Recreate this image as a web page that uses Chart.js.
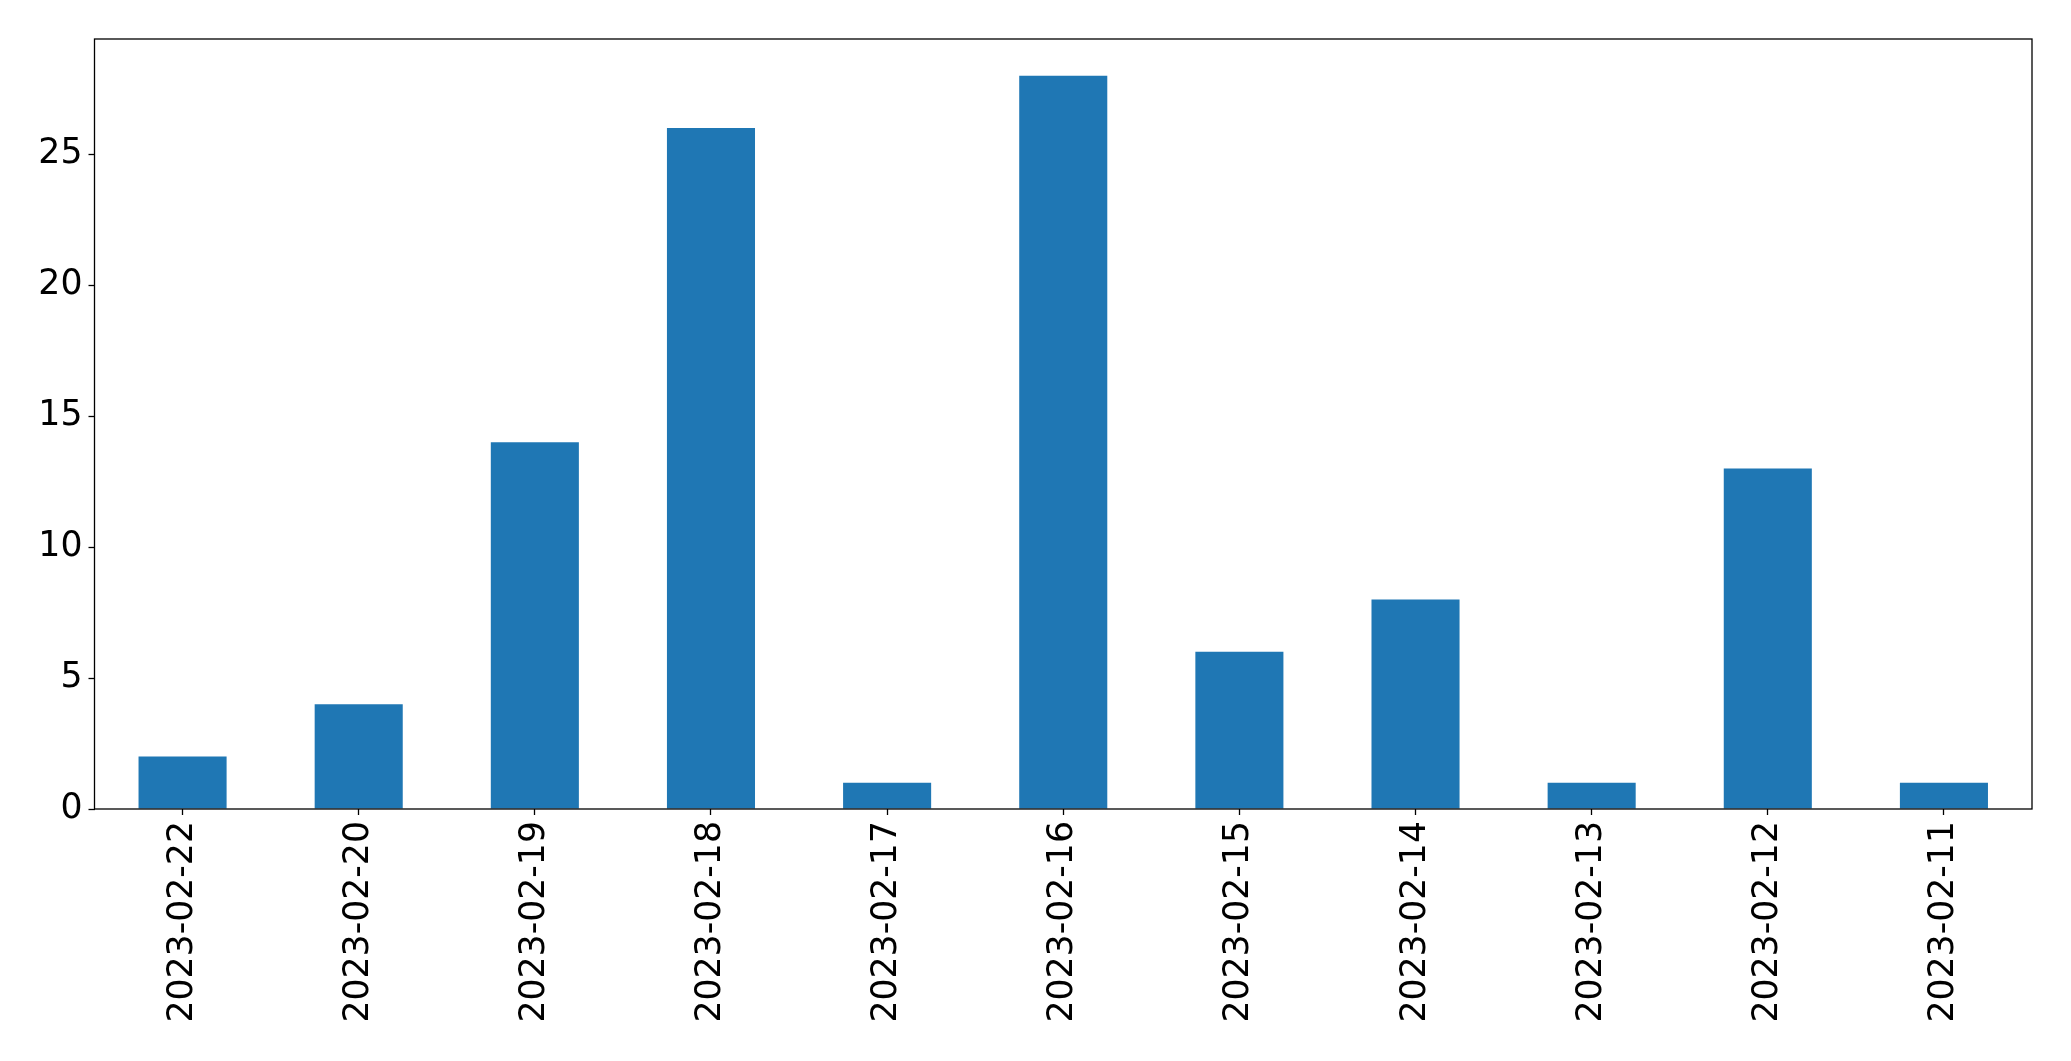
<!DOCTYPE html>
<html>
<head>
<meta charset="utf-8">
<script src="https://cdn.jsdelivr.net/npm/chart.js@4"></script>
<style>
  html, body { margin: 0; padding: 0; background: #fff; }
  #wrap { width: 2071px; height: 1061px; }
</style>
</head>
<body>
<div id="wrap"><canvas id="dateChart" width="2071" height="1061"></canvas></div>
<script>
// counts per date
const dates = ["2023-02-22", "2023-02-20", "2023-02-19", "2023-02-18", "2023-02-17", "2023-02-16",
               "2023-02-15", "2023-02-14", "2023-02-13", "2023-02-12", "2023-02-11"];
const counts = [2, 4, 14, 26, 1, 28, 6, 8, 1, 13, 1];
const yTicks = [0, 5, 10, 15, 20, 25];

// box around the plot, like matplotlib spines
const frame = {
  id: "frame",
  afterDraw(chart) {
    const a = chart.chartArea;
    const ctx = chart.ctx;
    ctx.save();
    ctx.strokeStyle = "#000";
    ctx.lineWidth = 1.3;
    ctx.strokeRect(a.left, a.top, a.right - a.left, a.bottom - a.top);
    ctx.restore();
  }
};

Chart.defaults.font.family = "DejaVu Sans";
Chart.defaults.color = "#000";

new Chart("dateChart", {
  type: "bar",
  data: {
    labels: dates,
    datasets: [{
      backgroundColor: "#1f77b4",
      data: counts,
      categoryPercentage: 1.0,
      barPercentage: 0.5
    }]
  },
  options: {
    responsive: false,
    animation: false,
    layout: { padding: { top: 39, right: 39, left: 0, bottom: 0 } },
    plugins: { legend: { display: false }, tooltip: { enabled: false } },
    scales: {
      x: {
        grid: { offset: false, drawOnChartArea: false, tickLength: 6, tickColor: "#000", tickWidth: 1.3 },
        border: { display: false },
        ticks: { font: { size: 34.7 }, maxRotation: 90, minRotation: 90, padding: 6, autoSkip: false },
        afterFit(scale) { scale.height = 252; }
      },
      y: {
        min: 0,
        max: Math.max(...counts) * 1.05,
        grid: { drawOnChartArea: false, tickLength: 6, tickColor: "#000", tickWidth: 1.3 },
        border: { display: false },
        ticks: { font: { size: 34.7 }, stepSize: 5, includeBounds: false, padding: 6 },
        afterBuildTicks(scale) { scale.ticks = yTicks.map(v => ({ value: v })); },
        afterFit(scale) { scale.width = 94.5; }
      }
    }
  },
  plugins: [frame]
});
</script>
</body>
</html>
